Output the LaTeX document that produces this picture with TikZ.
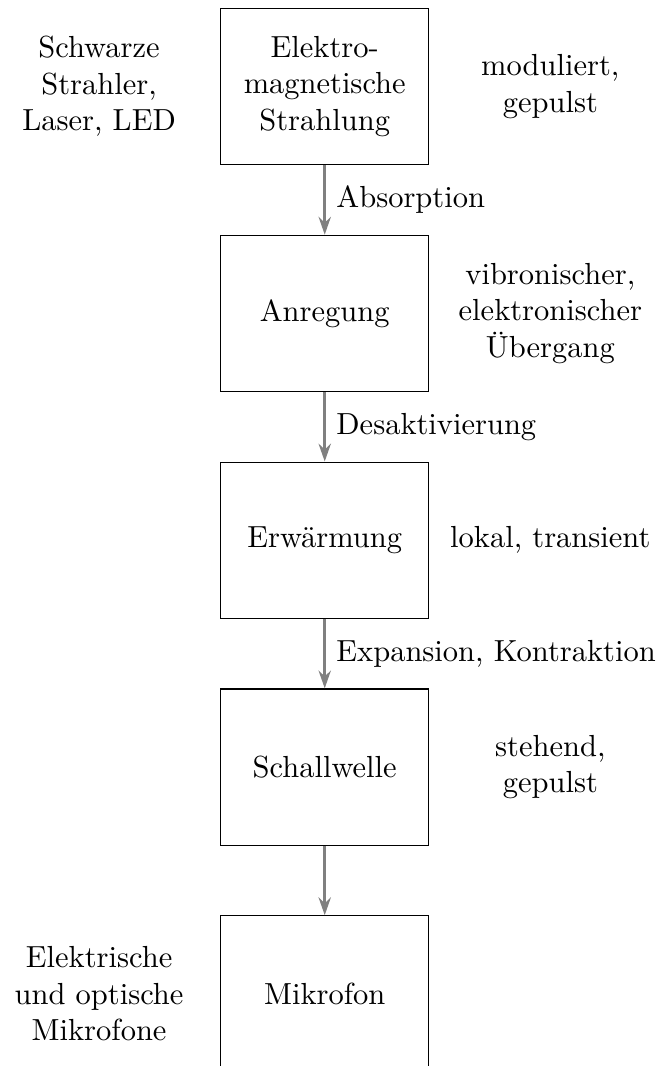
\documentclass[tikz,border=0pt]{standalone}
\usetikzlibrary{positioning,arrows.meta}
\begin{document}
\begin{tikzpicture}[
    box/.style={rectangle, draw, minimum width=2.4cm, minimum height=1.8cm, align=center},
    info/.style={align=center},
    pfeil/.style={-{Stealth[length=5.8pt,width=4pt]}, line width=1pt, gray}
  ]
        \useasboundingbox (-3.742,0.997) rectangle (3.956,-11.287);
        \node[box] (S1) at (0,0) {Elektro-\\magnetische\\Strahlung};
        \node[box, below=0.8cm of S1] (S2) {Anregung};
        \node[box, below=0.8cm of S2] (S3) {Erwärmung};
        \node[box, below=0.8cm of S3] (S4) {Schallwelle};
        \node[box, below=0.8cm of S4] (S5) {Mikrofon};
        \node[info] (L1) at ([xshift=-2.6cm]S1.center) {Schwarze\\Strahler,\\Laser, LED};
        \node[info] (L5) at ([xshift=-2.6cm]S5.center) {Elektrische\\und optische\\Mikrofone};
        \node[info] (R1) at ([xshift=2.6cm]S1.center) {moduliert,\\gepulst};
        \node[info] (R2) at ([xshift=2.6cm]S2.center) {vibronischer,\\elektronischer\\Übergang};
        \node[info] (R3) at ([xshift=2.6cm]S3.center) {lokal, transient};
        \node[info] (R4) at ([xshift=2.6cm]S4.center) {stehend,\\gepulst};
        \draw[pfeil] (S1) -- node[right, black] {Absorption} (S2);
        \draw[pfeil] (S2) -- node[right, black] {Desaktivierung} (S3);
        \draw[pfeil] (S3) -- node[right, black] {Expansion, Kontraktion} (S4);
        \draw[pfeil] (S4) -- (S5);
\end{tikzpicture}
\end{document}
